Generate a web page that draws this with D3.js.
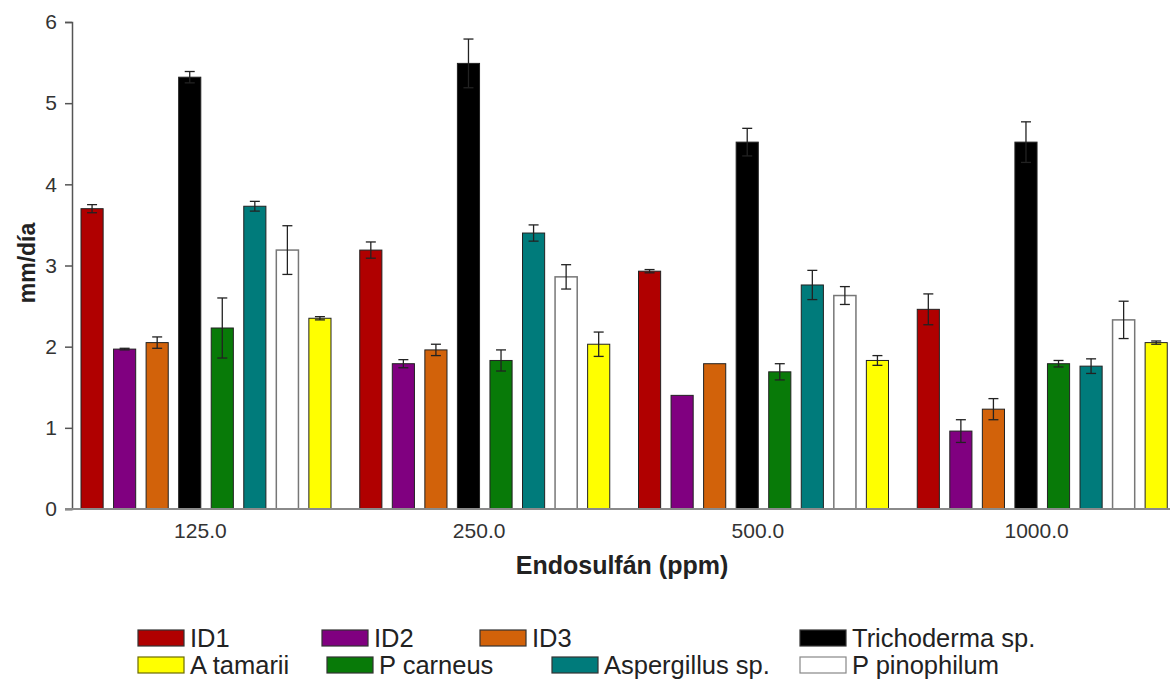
<!DOCTYPE html>
<html>
<head>
<meta charset="utf-8">
<script src="https://cdn.jsdelivr.net/npm/d3@7/dist/d3.min.js"></script>
<style>
  html, body { margin: 0; padding: 0; background: #fff; }
  svg { display: block; font-family: "Liberation Sans", Arial, sans-serif; }
</style>
</head>
<body>
<svg id="chart" width="1173" height="682"></svg>
<script>
// ---- data ----
const categories = ["125.0", "250.0", "500.0", "1000.0"];
const series = ["ID1", "ID2", "ID3", "Trichoderma sp.", "P carneus", "Aspergillus sp.", "P pinophilum", "A tamarii"];
const colors = ["#b00000", "#800080", "#d2620a", "#000000", "#087a08", "#007b7b", "#ffffff", "#ffff00"];
// values[series][category]
const values = [
  [3.70, 3.19, 2.93, 2.46],
  [1.97, 1.79, 1.40, 0.96],
  [2.05, 1.96, 1.79, 1.23],
  [5.32, 5.49, 4.52, 4.52],
  [2.23, 1.83, 1.69, 1.79],
  [3.73, 3.40, 2.76, 1.76],
  [3.19, 2.86, 2.63, 2.33],
  [2.35, 2.03, 1.83, 2.05]
];
const errors = [
  [0.05, 0.10, 0.02, 0.19],
  [0.01, 0.05, 0.00, 0.14],
  [0.07, 0.07, 0.00, 0.13],
  [0.07, 0.30, 0.17, 0.25],
  [0.37, 0.13, 0.10, 0.04],
  [0.06, 0.10, 0.18, 0.09],
  [0.30, 0.15, 0.11, 0.23],
  [0.02, 0.15, 0.06, 0.02]
];
const yTicks = [0, 1, 2, 3, 4, 5, 6];
const legendRows = [
  ["ID1", "ID2", "ID3", "Trichoderma sp."],
  ["A tamarii", "P carneus", "Aspergillus sp.", "P pinophilum"]
];
const yTitle = "mm/día";
const xTitle = "Endosulfán (ppm)";

// ---- layout ----
const svg = d3.select("#chart");
const axisX = 72, plotRight = 1170, yTop = 22, yBottom = 509;
const FONT = "Liberation Sans, Arial, sans-serif";

const y = d3.scaleLinear().domain([0, 6]).range([yBottom, yTop]);
const x0 = d3.scaleBand().domain(categories).range([61, 1176]).paddingInner(0).paddingOuter(0);
const x1 = d3.scaleBand().domain(series).range([20, 270]).paddingInner(0.32).paddingOuter(0);

// bars
const groups = svg.append("g").selectAll("g")
  .data(categories).join("g")
  .attr("transform", d => `translate(${x0(d)},0)`);

groups.each(function(cat, ci) {
  const g = d3.select(this);
  series.forEach((s, si) => {
    const v = values[si][ci];
    const e = errors[si][ci];
    const bx = x1(s), bw = x1.bandwidth();
    g.append("rect")
      .attr("x", bx).attr("y", y(v))
      .attr("width", bw).attr("height", y(0) - y(v))
      .attr("fill", colors[si])
      .attr("stroke", s === "P pinophilum" ? "#777" : "#222")
      .attr("stroke-width", s === "P pinophilum" ? 1.5 : 1);
    if (e > 0.005) {
      const cx = bx + bw / 2;
      const ec = "#222";
      g.append("line").attr("x1", cx).attr("x2", cx)
        .attr("y1", y(v + e)).attr("y2", y(v - e))
        .attr("stroke", ec).attr("stroke-width", 1.3);
      [v + e, v - e].forEach(t => {
        g.append("line").attr("x1", cx - 5).attr("x2", cx + 5)
          .attr("y1", y(t)).attr("y2", y(t))
          .attr("stroke", ec).attr("stroke-width", 1.3);
      });
    }
  });
});

// y axis
const yAxis = d3.axisLeft(y).tickValues(yTicks).tickSize(7).tickPadding(8).tickFormat(d3.format("d"));
const gy = svg.append("g").attr("transform", `translate(${axisX},0)`).call(yAxis);
gy.select(".domain").attr("stroke", "#555").attr("stroke-width", 1.5);
gy.selectAll(".tick line").attr("stroke", "#555").attr("stroke-width", 1.5);
gy.selectAll(".tick text").attr("font-size", 21).attr("fill", "#333").attr("font-family", FONT);

// baseline
svg.append("line").attr("x1", axisX - 7).attr("x2", plotRight)
  .attr("y1", yBottom).attr("y2", yBottom)
  .attr("stroke", "#8a8a8a").attr("stroke-width", 2);

// x labels
const xAxis = d3.axisBottom(x0).tickSize(0).tickPadding(14);
const gx = svg.append("g").attr("transform", `translate(0,${yBottom})`).call(xAxis);
gx.select(".domain").remove();
gx.selectAll(".tick text").attr("font-size", 21).attr("fill", "#333").attr("font-family", FONT);

// titles
svg.append("text").attr("x", 622).attr("y", 574).attr("text-anchor", "middle")
  .attr("font-family", FONT)
  .attr("font-size", 25).attr("font-weight", "bold").attr("fill", "#222").text(xTitle);
svg.append("text").attr("transform", "translate(35,263) rotate(-90)")
  .attr("text-anchor", "middle").attr("font-family", FONT)
  .attr("font-size", 23).attr("font-weight", "bold").attr("fill", "#222").text(yTitle);

// legend
const legX = [[138, 322, 480, 800], [138, 327, 552, 800]];
const legY = [638, 665];
legendRows.forEach((row, ri) => {
  row.forEach((name, ii) => {
    const si = series.indexOf(name);
    const lx = legX[ri][ii], ly = legY[ri];
    svg.append("rect").attr("x", lx).attr("y", ly - 8).attr("width", 46).attr("height", 16)
      .attr("fill", colors[si])
      .attr("stroke", name === "P pinophilum" ? "#888" : (name === "A tamarii" ? "#6b6b00" : "#333"))
      .attr("stroke-width", 1.2);
    svg.append("text").attr("x", lx + 52).attr("y", ly + 9)
      .attr("font-family", FONT)
      .attr("font-size", 25.5).attr("fill", "#222").text(name);
  });
});
</script>
</body>
</html>
